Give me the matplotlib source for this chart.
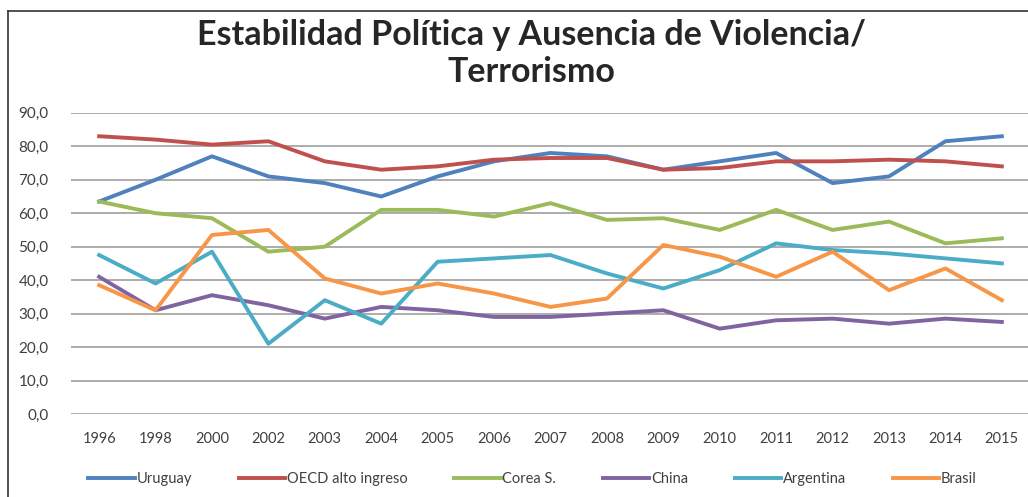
import matplotlib.pyplot as plt
from matplotlib.lines import Line2D

years = ['1996', '1998', '2000', '2002', '2003', '2004', '2005', '2006', '2007',
         '2008', '2009', '2010', '2011', '2012', '2013', '2014', '2015']

uruguay = [63.5, 70.0, 77.0, 71.0, 69.0, 65.0, 71.0, 75.5, 78.0, 77.0, 73.0, 75.5, 78.0, 69.0, 71.0, 81.5, 83.0]
oecd = [83.0, 82.0, 80.5, 81.5, 75.5, 73.0, 74.0, 76.0, 76.5, 76.5, 73.0, 73.5, 75.5, 75.5, 76.0, 75.5, 74.0]
corea = [63.5, 60.0, 58.5, 48.5, 50.0, 61.0, 61.0, 59.0, 63.0, 58.0, 58.5, 55.0, 61.0, 55.0, 57.5, 51.0, 52.5]
china = [41.0, 31.0, 35.5, 32.5, 28.5, 32.0, 31.0, 29.0, 29.0, 30.0, 31.0, 25.5, 28.0, 28.5, 27.0, 28.5, 27.5]
argentina = [47.5, 39.0, 48.5, 21.0, 34.0, 27.0, 45.5, 46.5, 47.5, 42.0, 37.5, 43.0, 51.0, 49.0, 48.0, 46.5, 45.0]
brasil = [38.5, 31.0, 53.5, 55.0, 40.5, 36.0, 39.0, 36.0, 32.0, 34.5, 50.5, 47.0, 41.0, 48.5, 37.0, 43.5, 34.0]

series = [
    ('Uruguay', uruguay, '#4F81BD'),
    ('OECD alto ingreso', oecd, '#C0504D'),
    ('Corea S.', corea, '#9BBB59'),
    ('China', china, '#8064A2'),
    ('Argentina', argentina, '#4BACC6'),
    ('Brasil', brasil, '#F79646'),
]

plt.rcParams['font.family'] = ['Lato', 'DejaVu Sans']

fig = plt.figure(figsize=(10.28, 4.97), dpi=100)
ax = fig.add_axes([0.069, 0.167, 0.933, 0.606])

x = list(range(len(years)))
for name, vals, color in series:
    ax.plot(x, vals, color=color, lw=2.8, label=name, solid_joinstyle='round')

ax.set_xlim(-0.5, len(years) - 0.5)
ax.set_ylim(0, 90)
ax.set_yticks(range(0, 91, 10))
ax.set_yticklabels([f'{v:.1f}'.replace('.', ',') for v in range(0, 91, 10)])
ax.set_xticks(x)
ax.set_xticklabels(years)
ax.tick_params(length=0, labelsize=10.5, colors='#404040')
ax.tick_params(axis='x', pad=13)
ax.tick_params(axis='y', labelsize=11, pad=16)
ax.grid(axis='y', color='#A6A6A6', lw=1.3)
ax.set_axisbelow(True)
for s in ax.spines.values():
    s.set_visible(False)

fig.text(0.517, 0.892, 'Estabilidad Política y Ausencia de Violencia/\nTerrorismo',
         ha='center', va='center', fontsize=24.5, fontweight='bold', color='#262626',
         linespacing=1.2)

handles = [Line2D([], [], color=c, lw=2.8) for _, _, c in series]
fig.legend(handles, [n for n, _, _ in series], loc='center', bbox_to_anchor=(0.518, 0.036),
           ncol=6, frameon=False, fontsize=10.5, handlelength=3.2, handletextpad=0.1,
           columnspacing=3.2, labelcolor='#404040')

# chart border (top and left edges visible)
fig.add_artist(Line2D([0.008, 1.0], [0.978, 0.978], color='#333333', lw=1.2))
fig.add_artist(Line2D([0.008, 0.008], [0.0, 0.978], color='#333333', lw=1.2))

fig.savefig('out.png', dpi=100)
